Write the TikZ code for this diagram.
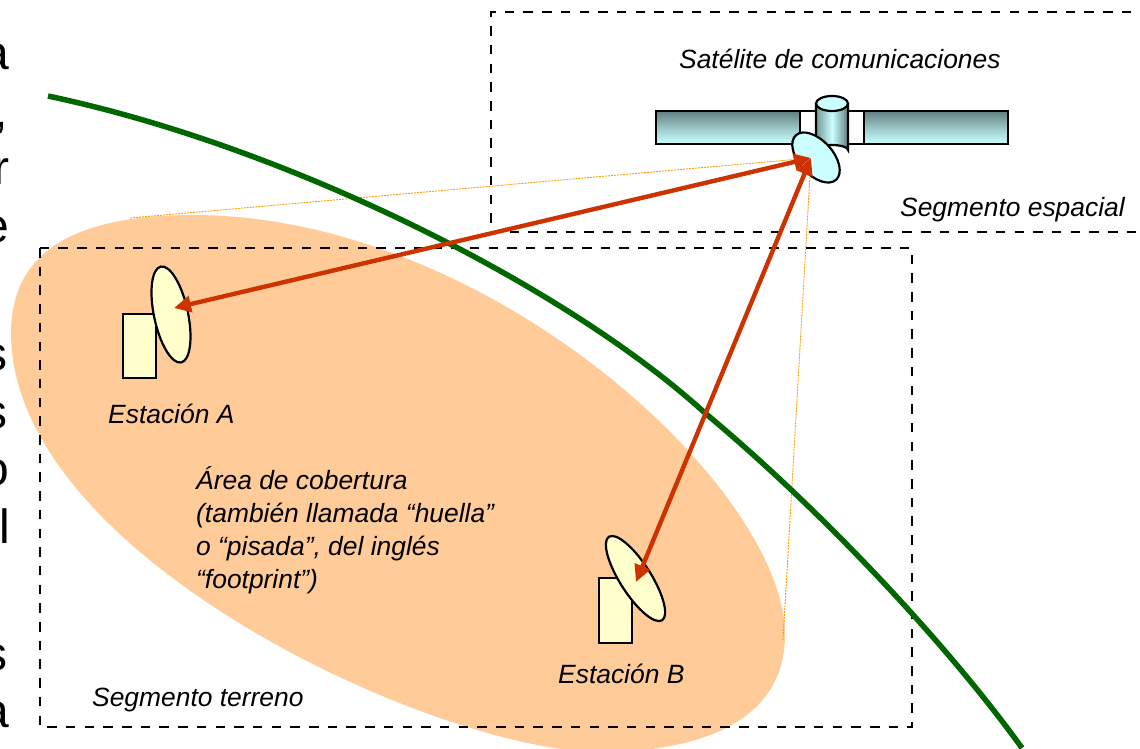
\documentclass[tikz,border=0pt]{standalone}
\usepackage{fontspec}
\setmainfont{Liberation Sans}
\usetikzlibrary{arrows.meta,shapes.geometric}
\definecolor{huella}{HTML}{FFCC99}
\definecolor{tierra}{HTML}{006600}
\definecolor{enlace}{HTML}{CC3300}
\definecolor{crema}{HTML}{FFFFCC}
\definecolor{cian}{HTML}{CCFFFF}
\definecolor{panel}{HTML}{5F7F7F}
\definecolor{haz}{HTML}{FF9900}
\begin{document}
\begin{tikzpicture}[x=1pt,y=-1pt]

	\tikzstyle{etiqueta}=[inner sep=0pt,font=\fontsize{26.4}{33}\selectfont\itshape,align=left]
	\tikzstyle{letra}=[inner sep=0pt,anchor=base east,font=\fontsize{48}{58}\selectfont]
	\tikzstyle{segmento}=[black,line width=2.4pt,dash pattern=on 9.5pt off 9.2pt]
	\tikzstyle{equipo}=[rectangle,fill=crema,draw=black,line width=2.2pt,minimum width=33pt,inner sep=0pt]
	\tikzstyle{antena}=[ellipse,fill=crema,draw=black,line width=2.2pt,inner sep=0pt]
	\tikzstyle{alas}=[rectangle,draw=black,line width=1.8pt,top color=panel,bottom color=cian,middle color=cian!55!panel,minimum height=33pt,minimum width=144pt,inner sep=0pt]
	\tikzstyle{radio}=[{Triangle[length=17pt,width=16pt]}-{Triangle[length=17pt,width=16pt]},enlace,line width=4.4pt]
	\tikzstyle{borde}=[haz,line width=0.9pt,dash pattern=on 2pt off 1pt]

	\useasboundingbox (0,0) rectangle (1140,748);

	\fill[huella] (193,215) .. controls (489,215) and (785,488) .. (785,635)
		.. controls (785,724) and (695,752) .. (600,752)
		.. controls (440,752) and (11,558) .. (11,333)
		.. controls (11,256) and (68,215) .. (193,215) -- cycle;

	\coordinate (hazizq) at (130,218);
	\coordinate (hazder) at (783,640);
	\coordinate (foco) at (811,158);
	\coordinate (focoA) at (174,308);
	\coordinate (focoB) at (636,582);

	\draw[borde] (hazizq) -- (foco);
	\draw[borde] (hazder) -- (foco);

	\draw[segmento] (1150,12) -- (491,12) -- (491,232) -- (1150,232);
	\draw[segmento] (40,248) rectangle (912,727);

	\draw[tierra,line width=5.5pt] (48,96) .. controls (290,147) and (568,288) .. (705,413) .. controls (825,513) and (950,648) .. (1022,748);

	\node[equipo,minimum height=64pt] (equipoA) at (139.5,346) {};
	\node[antena,minimum width=98pt,minimum height=34pt,rotate=-78] (antenaA) at (171,314.5) {};
	\node[equipo,minimum height=65pt] (equipoB) at (615.5,610.5) {};
	\node[antena,minimum width=99pt,minimum height=31pt,rotate=-57.5] (antenaB) at (635.5,578.5) {};

	\node[rectangle,draw=black,fill=white,line width=1.8pt,minimum width=64pt,minimum height=33pt,inner sep=0pt] (cuerpo) at (832,127.5) {};
	\node[alas] (alaizq) at (728,127.5) {};
	\node[alas] (alader) at (936,127.5) {};
	\draw[draw=black,line width=2.2pt,left color=panel!80!cian,right color=panel,middle color=cian] (816,104) -- (816,150) arc[start angle=180,end angle=360,x radius=16,y radius=5] -- (848,104) -- cycle;
	\node[ellipse,draw=black,fill=cian,line width=2.2pt,minimum width=32pt,minimum height=15pt,inner sep=0pt] (tapa) at (832,103.5) {};
	\node[ellipse,draw=black,fill=cian,line width=2.2pt,minimum width=60pt,minimum height=34pt,inner sep=0pt,rotate=-48] (plato) at (816,157.5) {};

	\draw[radio] (focoA) -- (foco);
	\draw[radio] (focoB) -- (foco);

	\node[etiqueta,anchor=base west] (satelite) at (679,68) {Satélite de comunicaciones};
	\node[etiqueta,anchor=base west] (espacial) at (900,216) {Segmento espacial};
	\node[etiqueta,anchor=base west] (estA) at (108,423) {Estación A};
	\node[etiqueta,anchor=base west] (estB) at (558,683) {Estación B};
	\node[etiqueta,anchor=base west] (terreno) at (92,706) {Segmento terreno};
	\node[etiqueta,anchor=north west] (cobertura) at (196,466) {Área de cobertura\\(también llamada “huella”\\o “pisada”, del inglés\\“footprint”)};

	\foreach \letraN/\y/\x/\txt in {a1/69/9/a,b1/127/8/{,},c1/184/10/r,d1/242/9/e,e1/370/8/s,f1/428/8/s,g1/485/9/o,h1/543/10/l,i1/670/8/s,j1/727/9/a}
		\node[letra] (\letraN) at (\x,\y) {\txt};

\end{tikzpicture}
\end{document}
